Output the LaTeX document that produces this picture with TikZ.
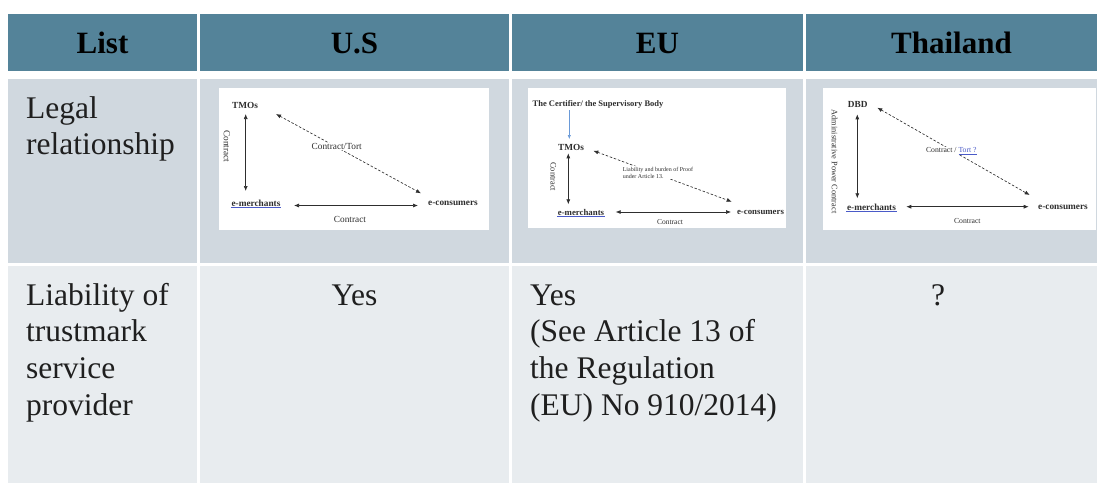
\documentclass[tikz,border=0pt]{standalone}
\usepackage{fontspec}
\setmainfont{Liberation Serif}
\usetikzlibrary{arrows.meta}
\definecolor{headblue}{HTML}{548399}
\definecolor{rowgray}{HTML}{D0D8DF}
\definecolor{rowlight}{HTML}{E8ECEF}
\definecolor{inkgray}{HTML}{2E2E2E}
\definecolor{linkblue}{HTML}{4A5AC8}
\definecolor{certblue}{HTML}{6A9AD8}

\begin{document}
\begin{tikzpicture}[x=1pt,y=-1pt,
  head/.style={font=\fontsize{31}{36}\selectfont\bfseries, text=black, inner sep=0, anchor=base},
  body/.style={font=\fontsize{31.5}{36.7}\selectfont, text=black!88, inner sep=0},
  mini/.style={font=\fontsize{9.3}{10}\selectfont, text=inkgray, inner sep=0.6pt},
  minib/.style={font=\fontsize{9.3}{10}\selectfont\bfseries, text=inkgray, inner sep=0.6pt},
  rel/.style={draw=inkgray, line width=0.65pt, {Latex[length=5pt,width=4pt]}-{Latex[length=5pt,width=4pt]}},
  reld/.style={rel, dash pattern=on 2.5pt off 1.8pt},
  shot/.style={fill=white},
]
\useasboundingbox (0,0) rectangle (1097,483);
\fill[white] (0,0) rectangle (1097,483);

% header row
\fill[headblue] (8,14) rectangle (197,71);
\fill[headblue] (200,14) rectangle (509,71);
\fill[headblue] (512,14) rectangle (803,71);
\fill[headblue] (806,14) rectangle (1097,71);
% second row
\fill[rowgray] (8,79) rectangle (197,263);
\fill[rowgray] (200,79) rectangle (509,263);
\fill[rowgray] (512,79) rectangle (803,263);
\fill[rowgray] (806,79) rectangle (1097,263);
% third row
\fill[rowlight] (8,266) rectangle (197,483);
\fill[rowlight] (200,266) rectangle (509,483);
\fill[rowlight] (512,266) rectangle (803,483);
\fill[rowlight] (806,266) rectangle (1097,483);

% header texts
\node[head] (hList) at (102.5,53) {List};
\node[head] (hUS) at (354.5,53) {U.S};
\node[head] (hEU) at (657.5,53) {EU};
\node[head] (hTH) at (951.5,53) {Thailand};

% row labels
\node[body, anchor=base west] (lLegal) at (26,118)
  {\begin{tabular}[t]{@{}l@{}}Legal\\relationship\end{tabular}};
\node[body, anchor=base west] (lLiab) at (26,305)
  {\begin{tabular}[t]{@{}l@{}}Liability of\\trustmark\\service\\provider\end{tabular}};

% third row answers
\node[body, anchor=base] (aUS) at (354.5,305) {Yes};
\node[body, anchor=base west] (aEU) at (530,305)
  {\begin{tabular}[t]{@{}l@{}}Yes\\(See Article 13 of\\the Regulation\\(EU) No 910/2014)\end{tabular}};
\node[body, anchor=base] (aTH) at (938,305) {?};

% ---------- U.S. relationship sketch ----------
\fill[shot] (219,88) rectangle (489,230);
\node[minib] (usT) at (245,105.5) {TMOs};
\node[minib] (usM) at (256,203) {e-merchants};
\node[minib] (usC) at (453,203) {e-consumers};
\draw[linkblue, line width=0.6pt] ([yshift=-0.8pt]usM.base west) -- ([yshift=-0.8pt]usM.base east);
\coordinate (usT1) at (245.7,114);
\coordinate (usM1) at (245.7,191);
\coordinate (usM2) at (294,205.5);
\coordinate (usC1) at (418,205.5);
\coordinate (usT2) at (276,114);
\coordinate (usC2) at (421,193.3);
\draw[rel] (usT1) -- (usM1);
\draw[rel] (usM2) -- (usC1);
\draw[reld] (usT2) -- (usC2);
\node[mini, rotate=-90] (usL1) at (227,146.5) {Contract};
\node[mini] (usL2) at (350,219) {Contract};
\node[mini, fill=white] (usL3) at (336.7,146.7) {Contract/Tort};

% ---------- EU relationship sketch ----------
\fill[shot] (528,88) rectangle (786,228);
\node[minib, font=\fontsize{8.5}{10}\selectfont\bfseries] (euB) at (598,104.3) {The Certifier/ the Supervisory Body};
\node[minib] (euT) at (571,147.3) {TMOs};
\node[minib, font=\fontsize{8.8}{10}\selectfont\bfseries] (euM) at (581,212) {e-merchants};
\node[minib, font=\fontsize{8.8}{10}\selectfont\bfseries] (euC) at (760.5,212) {e-consumers};
\draw[linkblue, line width=0.6pt] ([yshift=-0.8pt]euM.base west) -- ([yshift=-0.8pt]euM.base east);
\coordinate (euB1) at (569.3,110);
\coordinate (euT0) at (569.3,139);
\draw[certblue, line width=0.6pt, -{Latex[length=4pt,width=3.4pt]}] (euB1) -- (euT0);
\coordinate (euT1) at (568.3,153.3);
\coordinate (euM1) at (568.3,204.3);
\coordinate (euM2) at (615.7,212);
\coordinate (euC1) at (731,212);
\coordinate (euT2) at (593.3,150.7);
\coordinate (euC2) at (731.7,201.7);
\draw[rel] (euT1) -- (euM1);
\draw[rel] (euM2) -- (euC1);
\draw[reld] (euT2) -- (euC2);
\node[mini, rotate=-90, font=\fontsize{8.4}{10}\selectfont] (euL1) at (553.3,176.7) {Contract};
\node[mini, font=\fontsize{7.5}{9}\selectfont] (euL2) at (670,221.7) {Contract};
\node[mini, fill=white, align=left, font=\fontsize{6}{7}\selectfont, anchor=north west] (euL3) at (622,166)
  {Liability and burden of Proof\\under Article 13.};

% ---------- Thailand relationship sketch ----------
\fill[shot] (823,88) rectangle (1096,230);
\node[minib] (thD) at (857.7,104.3) {DBD};
\node[minib] (thM) at (871.5,207.5) {e-merchants};
\node[minib] (thC) at (1063,207.5) {e-consumers};
\draw[linkblue, line width=0.6pt] ([yshift=-0.8pt]thM.base west) -- ([yshift=-0.8pt]thM.base east);
\coordinate (thD1) at (857.3,114.3);
\coordinate (thM1) at (857.3,198.3);
\coordinate (thM2) at (906.3,206.7);
\coordinate (thC1) at (1028.7,206.7);
\coordinate (thD2) at (877.3,107.7);
\coordinate (thC2) at (1029.7,195);
\draw[rel] (thD1) -- (thM1);
\draw[rel] (thM2) -- (thC1);
\draw[reld] (thD2) -- (thC2);
\node[mini, rotate=-90, font=\fontsize{8.3}{10}\selectfont] (thL1) at (834.7,161.5) {Administrative Power Contract};
\node[mini, font=\fontsize{7.7}{9}\selectfont] (thL2) at (967.3,221) {Contract};
\node[mini, fill=white, font=\fontsize{7.7}{9}\selectfont] (thL3) at (951.3,150.7) {Contract / \textcolor{linkblue}{\underline{Tort ?}}};
\end{tikzpicture}
\end{document}
